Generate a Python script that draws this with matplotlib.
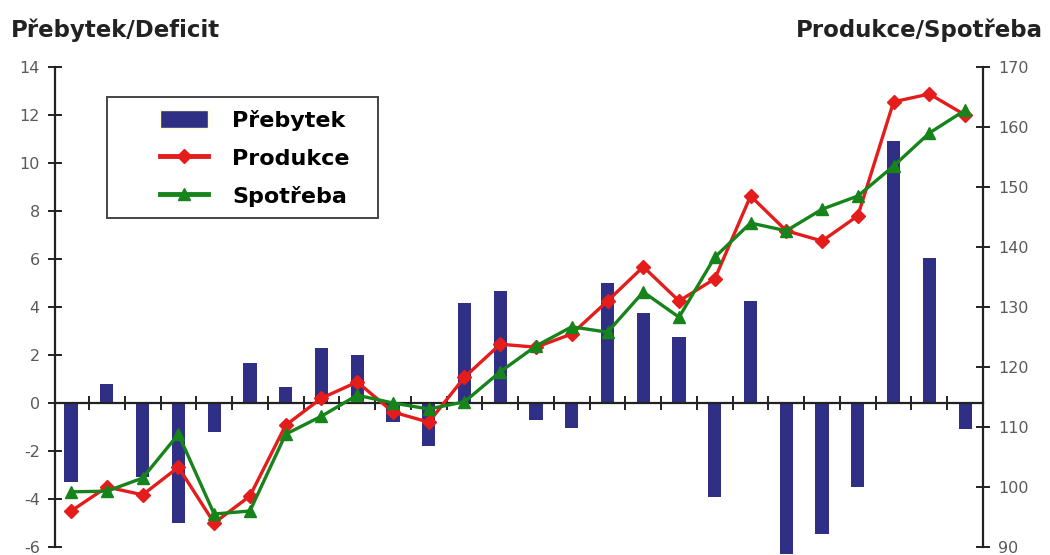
import numpy as np
import matplotlib.pyplot as plt
from matplotlib.lines import Line2D
from matplotlib.patches import Patch, Rectangle

# surplus / deficit (left axis) and production / consumption (right axis)
prebytek = [-3.3, 0.8, -3.1, -5.0, -1.2, 1.65, 0.65, 2.3, 2.0, -0.8, -1.8, 4.15, 4.65,
            -0.7, -1.05, 5.0, 3.75, 2.75, -3.9, 4.25, -6.3, -5.45, -3.5, 10.9, 6.05, -1.1]
produkce = [96.0, 100.0, 98.7, 103.3, 94.0, 98.5, 110.3, 114.8, 117.5, 112.5, 110.8, 118.3, 123.8,
            123.3, 125.5, 131.0, 136.7, 131.0, 134.7, 148.5, 142.7, 141.0, 145.2, 164.2, 165.5, 162.0]
spotreba = [99.2, 99.3, 101.5, 108.8, 95.5, 96.0, 108.8, 111.8, 115.3, 114.0, 113.0, 114.2, 119.2,
            123.5, 126.7, 125.8, 132.5, 128.3, 138.3, 144.0, 142.7, 146.3, 148.5, 153.5, 159.0, 162.8]

left_ticks = [-6, -4, -2, 0, 2, 4, 6, 8, 10, 12, 14]
right_ticks = [90, 100, 110, 120, 130, 140, 150, 160, 170]

NAVY = '#2f2f85'
RED = '#e51c1c'
GREEN = '#16841a'
AXC = '#222222'

x = np.arange(len(prebytek))

fig = plt.figure(figsize=(10.5, 5.55), dpi=100)
ax = fig.add_axes([0.0524, 0.0144, 0.8838, 0.8649])
ax.bar(x, prebytek, width=0.37, color=NAVY, clip_on=False, zorder=2)
ax.set_xlim(-0.45, len(x) - 0.5)
ax.set_ylim(-6, 14)
ax.set_yticks(left_ticks)
ax.set_yticklabels([str(t) for t in left_ticks])

ax.spines['top'].set_visible(False)
ax.spines['right'].set_visible(False)
ax.spines['bottom'].set_position(('data', 0))
ax.spines['bottom'].set_zorder(3)
for s in ('left', 'bottom'):
    ax.spines[s].set_linewidth(1.6)
    ax.spines[s].set_color(AXC)
ax.set_xticks(x[:-1] + 0.5)
ax.set_xticklabels([])
ax.tick_params(axis='x', direction='inout', length=10, width=1.4, color=AXC)
ax.tick_params(axis='y', direction='inout', length=10, width=1.4, color=AXC,
               labelsize=11.5, labelcolor='#5a5a5a', pad=6)

ax2 = ax.twinx()
ax2.plot(x, produkce, color=RED, lw=2.4, marker='D', ms=7, zorder=4)
ax2.plot(x, spotreba, color=GREEN, lw=2.4, marker='^', ms=9, zorder=5)
ax2.set_ylim(90, 170)
ax2.set_yticks(right_ticks)
ax2.set_yticklabels([str(t) for t in right_ticks])
for s in ('top', 'left', 'bottom'):
    ax2.spines[s].set_visible(False)
ax2.spines['right'].set_linewidth(1.6)
ax2.spines['right'].set_color(AXC)
ax2.tick_params(axis='y', direction='inout', length=10, width=1.4, color=AXC,
                labelsize=11.5, labelcolor='#5a5a5a', pad=6)

# legend box drawn separately: the original has a wide left margin
ax2.add_patch(Rectangle((0.056, 0.685), 0.292, 0.2525, transform=ax2.transAxes,
                        facecolor='white', edgecolor='#444444', lw=1.4, zorder=6))
handles = [Patch(facecolor=NAVY, edgecolor='#fffbd0'),
           Line2D([], [], color=RED, lw=3.5, marker='D', ms=7),
           Line2D([], [], color=GREEN, lw=3.5, marker='^', ms=9)]
leg = ax2.legend(handles, ['Přebytek', 'Produkce', 'Spotřeba'],
                 loc='upper left', bbox_to_anchor=(0.113, 0.911), borderaxespad=0,
                 prop={'weight': 'bold', 'size': 16}, frameon=False,
                 handlelength=2.15, handleheight=0.9, handletextpad=1.1,
                 labelspacing=0.77, borderpad=0)
leg.set_zorder(7)

fig.text(0.01, 0.946, 'Přebytek/Deficit', fontsize=16.5, fontweight='bold',
         color=AXC, va='center', ha='left')
fig.text(0.993, 0.946, 'Produkce/Spotřeba', fontsize=16.5, fontweight='bold',
         color=AXC, va='center', ha='right')

fig.savefig('out.png', dpi=100)
